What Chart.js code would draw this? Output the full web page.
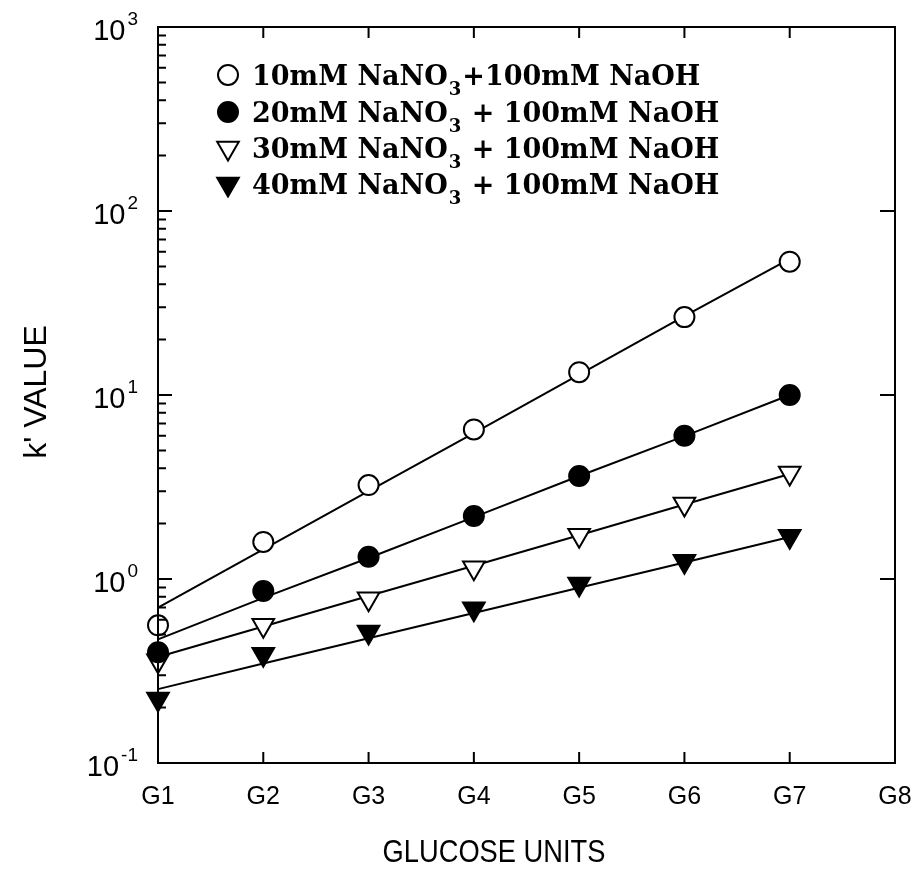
<!DOCTYPE html>
<html>
<head>
<meta charset="utf-8">
<script src="https://cdn.jsdelivr.net/npm/chart.js@4/dist/chart.umd.min.js"></script>
<style>
  html, body { margin: 0; padding: 0; background: #fff; }
  #wrap { width: 911px; height: 873px; }
</style>
</head>
<body>
<div id="wrap"><canvas id="kChart" width="911" height="873"></canvas></div>
<script>
// glucose units on the x axis (G1..G8)
const unitLabels = ['G1', 'G2', 'G3', 'G4', 'G5', 'G6', 'G7', 'G8'];
const unitX = [1, 2, 3, 4, 5, 6, 7];

// measured k' values (markers)
const k10 = [0.56, 1.59, 3.24, 6.5, 13.3, 26.5, 53];
const k20 = [0.40, 0.86, 1.32, 2.2, 3.63, 6.0, 10.0];
const k30 = [0.36, 0.56, 0.78, 1.15, 1.73, 2.56, 3.77];
const k40 = [0.223, 0.39, 0.515, 0.69, 0.94, 1.25, 1.71];

// fitted lines
const fit10 = [0.70, 1.45, 3.0, 6.2, 12.9, 26.8, 55];
const fit20 = [0.47, 0.79, 1.30, 2.17, 3.63, 5.98, 10.0];
const fit30 = [0.377, 0.552, 0.808, 1.18, 1.73, 2.54, 3.72];
const fit40 = [0.252, 0.347, 0.476, 0.653, 0.897, 1.23, 1.69];

const seriesNames = ['10mM NaNO', '20mM NaNO', '30mM NaNO', '40mM NaNO'];
const seriesTails = ['+100mM NaOH', ' + 100mM NaOH', ' + 100mM NaOH', ' + 100mM NaOH'];

const yDecades = [0.1, 1, 10, 100, 1000];
const yExponents = ['-1', '0', '1', '2', '3'];

const toPoints = (vals) => vals.map((v, i) => ({ x: unitX[i], y: v }));

// marker styles: open circle, filled circle, open triangle, filled triangle
const markerStyles = [
  { pointStyle: 'circle', rotation: 0, fill: '#fff', radius: 10 },
  { pointStyle: 'circle', rotation: 0, fill: '#000', radius: 10 },
  { pointStyle: 'triangle', rotation: 180, fill: '#fff', radius: 12.5 },
  { pointStyle: 'triangle', rotation: 180, fill: '#000', radius: 12.5 }
];

const fitSets = [fit10, fit20, fit30, fit40].map(f => ({
  data: toPoints(f),
  borderColor: '#000',
  borderWidth: 2,
  pointRadius: 0,
  showLine: true,
  fill: false,
  clip: false,
  order: 2
}));

const markerSets = [k10, k20, k30, k40].map((k, i) => ({
  data: toPoints(k),
  showLine: false,
  pointStyle: markerStyles[i].pointStyle,
  rotation: markerStyles[i].rotation,
  pointRadius: markerStyles[i].radius,
  pointBackgroundColor: markerStyles[i].fill,
  pointBorderColor: '#000',
  pointBorderWidth: 2,
  clip: false,
  order: 1
}));

// frame, inward ticks, tick labels, titles and legend
const decorPlugin = {
  id: 'decor',
  afterDraw(chart) {
    const ctx = chart.ctx;
    const xs = chart.scales.x;
    const ys = chart.scales.y;
    const a = chart.chartArea;
    ctx.save();
    ctx.strokeStyle = '#000';
    ctx.fillStyle = '#000';
    ctx.lineWidth = 2;
    ctx.strokeRect(a.left, a.top, a.right - a.left, a.bottom - a.top);

    // x ticks (bottom and top)
    ctx.beginPath();
    for (let g = 2; g <= 7; g++) {
      const px = xs.getPixelForValue(g);
      ctx.moveTo(px, a.bottom); ctx.lineTo(px, a.bottom - 11);
      ctx.moveTo(px, a.top); ctx.lineTo(px, a.top + 11);
    }
    // y ticks: majors and minors on the left, majors on the right
    for (let d = 0; d < yDecades.length; d++) {
      const base = yDecades[d];
      const py = ys.getPixelForValue(base);
      if (d > 0 && d < yDecades.length - 1) {
        ctx.moveTo(a.left, py); ctx.lineTo(a.left + 14, py);
        ctx.moveTo(a.right, py); ctx.lineTo(a.right - 15, py);
      }
      if (d < yDecades.length - 1) {
        for (let m = 2; m <= 9; m++) {
          const pm = ys.getPixelForValue(base * m);
          ctx.moveTo(a.left, pm); ctx.lineTo(a.left + 8, pm);
        }
      }
    }
    ctx.stroke();

    // x tick labels
    ctx.font = '25px "Liberation Sans", Arial, sans-serif';
    ctx.textAlign = 'center';
    ctx.textBaseline = 'alphabetic';
    unitLabels.forEach((lab, i) => {
      ctx.fillText(lab, xs.getPixelForValue(i + 1), a.bottom + 41);
    });

    // y tick labels: 10 with superscript exponent
    yDecades.forEach((v, i) => {
      const py = ys.getPixelForValue(v);
      const exp = yExponents[i];
      ctx.font = '19px "Liberation Sans", Arial, sans-serif';
      ctx.textAlign = 'left';
      const expW = ctx.measureText(exp).width;
      const expX = 138 - expW;
      ctx.fillText(exp, expX, py - 2);
      ctx.font = '29px "Liberation Sans", Arial, sans-serif';
      ctx.textAlign = 'right';
      ctx.fillText('10', expX - 2, py + 13);
    });

    // axis titles
    ctx.font = '31px "Liberation Sans", Arial, sans-serif';
    ctx.textAlign = 'center';
    ctx.save();
    ctx.translate(494, 862);
    ctx.scale(0.88, 1);
    ctx.fillText('GLUCOSE UNITS', 0, 0);
    ctx.restore();
    ctx.save();
    ctx.translate(46, 392);
    ctx.rotate(-Math.PI / 2);
    ctx.font = '32px "Liberation Sans", Arial, sans-serif';
    ctx.fillText("k' VALUE", 0, 0);
    ctx.restore();

    // legend
    const rowY = [75, 112, 148, 184];
    const mx = 228;
    seriesNames.forEach((name, i) => {
      const y = rowY[i];
      const st = markerStyles[i];
      ctx.beginPath();
      if (st.pointStyle === 'circle') {
        ctx.arc(mx, y, 10, 0, Math.PI * 2);
      } else {
        const r = 12.5;
        ctx.moveTo(mx - r * 0.866, y - r * 0.5);
        ctx.lineTo(mx + r * 0.866, y - r * 0.5);
        ctx.lineTo(mx, y + r);
        ctx.closePath();
      }
      ctx.fillStyle = st.fill;
      ctx.fill();
      ctx.lineWidth = 2;
      ctx.stroke();
      ctx.fillStyle = '#000';
      ctx.textAlign = 'left';
      ctx.font = 'bold 27px "DejaVu Serif", serif';
      let tx = 252;
      ctx.fillText(name, tx, y + 10);
      tx += ctx.measureText(name).width;
      ctx.font = 'bold 18px "DejaVu Serif", serif';
      ctx.fillText('3', tx + 1, y + 20);
      tx += ctx.measureText('3').width + 2;
      ctx.font = 'bold 27px "DejaVu Serif", serif';
      ctx.fillText(seriesTails[i], tx, y + 10);
    });
    ctx.restore();
  }
};

new Chart(document.getElementById('kChart').getContext('2d'), {
  type: 'scatter',
  data: { datasets: [...fitSets, ...markerSets] },
  options: {
    responsive: false,
    animation: false,
    layout: { padding: { left: 158, right: 16, top: 27, bottom: 110 } },
    plugins: { legend: { display: false }, tooltip: { enabled: false } },
    scales: {
      x: {
        type: 'linear', min: 1, max: 8,
        ticks: { display: false }, grid: { display: false }, border: { display: false },
        afterFit: (s) => { s.height = 0; }
      },
      y: {
        type: 'logarithmic', min: 0.1, max: 1000,
        ticks: { display: false }, grid: { display: false }, border: { display: false },
        afterFit: (s) => { s.width = 0; }
      }
    }
  },
  plugins: [decorPlugin]
});
</script>
</body>
</html>
